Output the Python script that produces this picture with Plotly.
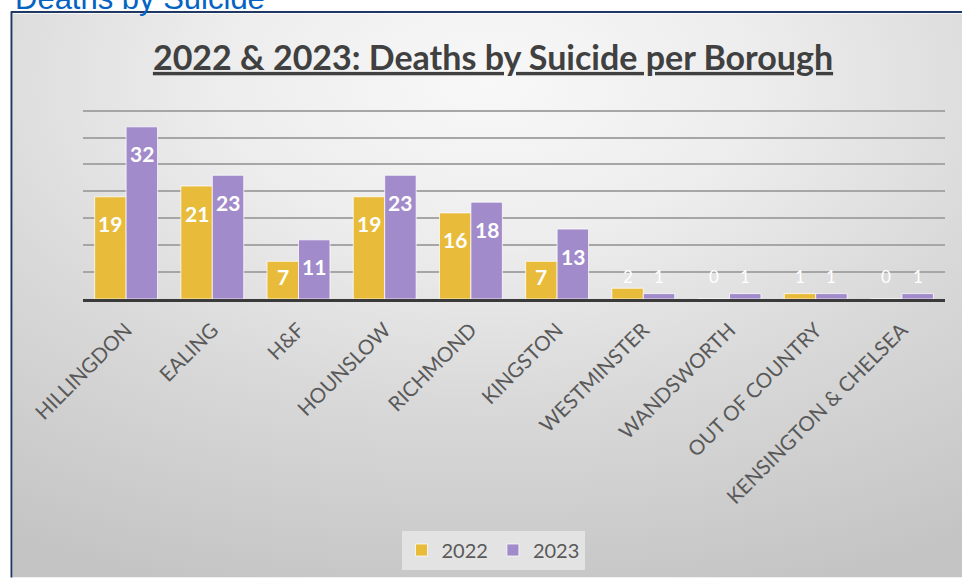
import base64
import plotly.graph_objects as go

# ---------------- data ----------------
boroughs = ["HILLINGDON", "EALING", "H&F", "HOUNSLOW", "RICHMOND", "KINGSTON",
            "WESTMINSTER", "WANDSWORTH", "OUT OF COUNTRY", "KENSINGTON & CHELSEA"]
deaths_2022 = [19, 21, 7, 19, 16, 7, 2, 0, 1, 0]
deaths_2023 = [32, 23, 11, 23, 18, 13, 1, 1, 1, 1]
series_names = ["2022", "2023"]
chart_title = "2022 & 2023: Deaths by Suicide per Borough"
page_heading = "Deaths by Suicide"

# ---------------- layout constants ----------------
W, H = 962, 580
ML, MR, MT, MB = 83, 17, 108, 280
PW, PH = W - ML - MR, H - MT - MB
Y_MAX = 35.5
BARGAP = 0.27
COL_2022 = "#E8BC3A"
COL_2023 = "#A28BCA"


def px_x(px):
    return (px - ML) / PW


def px_y(py):
    return (H - MB - py) / PH


# radial gradient background as svg image
svg = f"""<svg xmlns='http://www.w3.org/2000/svg' width='{W}' height='{H}' viewBox='0 0 100 100' preserveAspectRatio='none'>
<defs><radialGradient id='g' cx='0.5' cy='0.12' r='0.95'>
<stop offset='0' stop-color='#F8F8F8'/>
<stop offset='0.3' stop-color='#EDEDED'/>
<stop offset='0.6' stop-color='#D9D9D9'/>
<stop offset='1' stop-color='#C4C4C4'/>
</radialGradient></defs>
<rect x='0' y='0' width='100' height='100' fill='url(#g)'/></svg>"""
bg_src = "data:image/svg+xml;base64," + base64.b64encode(svg.encode()).decode()

fig = go.Figure()
for name, vals, col in [(series_names[0], deaths_2022, COL_2022),
                        (series_names[1], deaths_2023, COL_2023)]:
    fig.add_trace(go.Bar(
        name=name, x=boroughs, y=vals,
        marker=dict(color=col, line=dict(color="rgba(255,255,255,0.75)", width=1)),
        hoverinfo="skip",
    ))

# data labels (Excel "inside end" style)
catw = PW / len(boroughs)
off = (1 - BARGAP) * catw / 4
PX_PER_UNIT = PH / Y_MAX
annotations = []
for vals, sign in [(deaths_2022, -1), (deaths_2023, 1)]:
    for b, v in zip(boroughs, vals):
        shift = max(-27, 23 - v * PX_PER_UNIT)
        on_bar = shift < 0
        annotations.append(dict(
            x=b, y=v, xref="x", yref="y", text=str(v), showarrow=False,
            xshift=sign * off, yshift=shift,
            font=dict(family="Lato", size=21 if on_bar else 17,
                      color="white", weight="bold" if on_bar else "normal"),
        ))

annotations.append(dict(
    x=px_x(13), y=px_y(-2), xref="paper", yref="paper", xanchor="left", yanchor="middle",
    text=page_heading, showarrow=False,
    font=dict(family="Liberation Sans", size=31, color="#0563C1"),
))

fig.update_layout(
    width=W, height=H,
    margin=dict(l=ML, r=MR, t=MT, b=MB),
    paper_bgcolor="white",
    plot_bgcolor="rgba(0,0,0,0)",
    barmode="group", bargap=BARGAP, bargroupgap=0.0,
    title=dict(text=chart_title, x=493 / W, xanchor="center", xref="container",
               y=1 - 58 / H, yanchor="middle", yref="container",
               font=dict(family="Lato", size=34, color="#404040", weight="bold",
                         lineposition="under")),
    xaxis=dict(tickangle=-45, showline=True, linecolor="#3A3A3A", linewidth=3,
               ticks="", showgrid=False, ticklabelstandoff=8,
               tickfont=dict(family="Lato", size=20.5, color="#595959")),
    yaxis=dict(range=[0, Y_MAX], dtick=5, showticklabels=False, showgrid=True,
               gridcolor="#A6A6A6", gridwidth=1.5, zeroline=False, showline=False),
    legend=dict(orientation="h", x=px_x(493), y=px_y(550), xanchor="center",
                yanchor="middle", bgcolor="#E3E3E3",
                font=dict(family="Lato", size=20, color="#595959")),
    annotations=annotations,
    images=[dict(source=bg_src, xref="paper", yref="paper",
                 x=px_x(13), y=px_y(13), sizex=(W - 13) / PW, sizey=(H - 13) / PH,
                 xanchor="left", yanchor="top", sizing="stretch", layer="below")],
    shapes=[
        dict(type="line", xref="paper", yref="paper", x0=px_x(11.5), x1=px_x(11.5),
             y0=px_y(11), y1=px_y(H), line=dict(color="#1F3864", width=2), layer="above"),
        dict(type="line", xref="paper", yref="paper", x0=px_x(11), x1=px_x(W),
             y0=px_y(11.5), y1=px_y(11.5), line=dict(color="#1F3864", width=2), layer="above"),
    ],
    showlegend=True,
)

fig.write_html("out.html")
